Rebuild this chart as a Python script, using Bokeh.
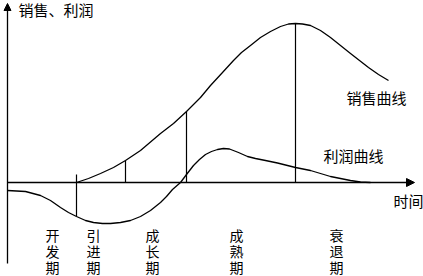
from bokeh.plotting import figure
from bokeh.models import Range1d, Arrow, NormalHead
from bokeh.core.properties import value
from bokeh.embed import file_html
from bokeh.resources import INLINE

# Sales curve (time, value)
sales_t = [69, 81, 93, 106, 118, 133, 153, 166, 179, 193, 203, 215, 226, 234, 243, 253, 263, 273,
           281, 288, 295, 303, 313, 323, 333, 343, 352, 361, 371, 381]
sales_v = [0, 4, 9, 15, 22, 32, 49, 59, 71, 85, 97, 110, 122, 130, 137, 145, 151, 156,
           158.5, 159, 158.5, 157, 152, 145, 137, 129, 122, 115, 108, 102]

# Profit curve (time, value)
profit_t = [0, 18, 33, 43, 53, 61, 69, 78, 86, 95, 103, 113, 123, 133, 143, 153, 159, 165, 173,
            179, 186, 192, 198, 204, 210, 216, 222, 231, 240, 248, 258, 270, 288, 303, 313, 323,
            333, 343, 353, 363]
profit_v = [-8, -9, -13, -18, -25, -30, -34, -38, -40, -41, -41, -40, -38, -34, -28, -20, -14, -7, 0,
            8, 17, 23, 28, 31, 33, 34, 33.5, 30, 26, 24, 22, 19.5, 15, 12, 9, 6,
            4, 2, 0.5, 0]

# Stage boundaries: time, bottom, top
bound_t = [69, 118, 179, 288]
bound_lo = [-34, 0, 0, 0]
bound_hi = [8, 22, 71, 159]

stage_names = ["开发期", "引进期", "成长期", "成熟期", "衰退期"]
stage_x = [45, 86, 145, 229, 329]

FONT = "Noto Sans CJK SC"

p = figure(width=423, height=276, output_backend="svg", toolbar_location=None,
           x_range=Range1d(-7, 416), y_range=Range1d(-94, 182), min_border=0)
p.axis.visible = False
p.grid.visible = False
p.outline_line_color = None
p.background_fill_color = "white"
p.border_fill_color = "white"

# axes with arrows
p.add_layout(Arrow(x_start=0, y_start=-81, x_end=0, y_end=179,
                   line_color="black", line_width=1.3,
                   end=NormalHead(size=7, fill_color="black", line_color="black")))
p.add_layout(Arrow(x_start=0, y_start=0, x_end=407, y_end=0,
                   line_color="black", line_width=1.3,
                   end=NormalHead(size=8, fill_color="black", line_color="black")))

p.line(sales_t, sales_v, line_color="black", line_width=1.3, line_join="round")
p.line(profit_t, profit_v, line_color="black", line_width=1.3, line_join="round")
p.segment(x0=bound_t, y0=bound_lo, x1=bound_t, y1=bound_hi, line_color="black", line_width=1.2)

def txt(x, y, s, align="left"):
    p.text(x=[x], y=[y], text=[s], text_font=value(FONT), text_font_size="15px",
           text_align=align, text_baseline="middle", text_color="black")

txt(11, 173, "销售、利润")
txt(339, 85, "销售曲线")
txt(316, 27, "利润曲线")
txt(386, -18, "时间")

cx, cy, ct = [], [], []
for name, x in zip(stage_names, stage_x):
    for i, ch in enumerate(name):
        cx.append(x)
        cy.append(-52 - 16 * i)
        ct.append(ch)
p.text(x=cx, y=cy, text=ct, text_font=value(FONT), text_font_size="14px",
       text_align="center", text_baseline="middle", text_color="black")

open("out.html", "w").write(file_html(p, INLINE))
